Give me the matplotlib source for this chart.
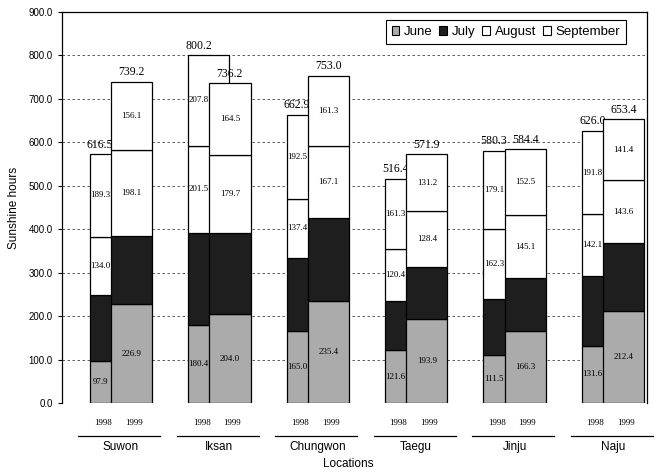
import numpy as np
import matplotlib.pyplot as plt

# data (sunshine hours per month)
locations = ['Suwon', 'Iksan', 'Chungwon', 'Taegu', 'Jinju', 'Naju']
months = ['June', 'July', 'August', 'September']

june_98 = [97.9, 180.4, 165.0, 121.6, 111.5, 131.6]
july_98 = [151.0, 210.5, 168.0, 113.1, 127.4, 160.5]
aug_98 = [134.0, 201.5, 137.4, 120.4, 162.3, 142.1]
sep_98 = [189.3, 207.8, 192.5, 161.3, 179.1, 191.8]
total_98 = [616.5, 800.2, 662.9, 516.4, 580.3, 626.0]

june_99 = [226.9, 204.0, 235.4, 193.9, 166.3, 212.4]
july_99 = [158.1, 188.0, 189.2, 118.4, 120.5, 156.0]
aug_99 = [198.1, 179.7, 167.1, 128.4, 145.1, 143.6]
sep_99 = [156.1, 164.5, 161.3, 131.2, 152.5, 141.4]
total_99 = [739.2, 736.2, 753.0, 571.9, 584.4, 653.4]

years = ['1998', '1999']

serif = 'Liberation Serif'
sans = 'Liberation Sans'
colors = ['#ababab', '#1e1e1e', 'white', 'white']

fig = plt.figure(figsize=(6.57, 4.72), dpi=100)
ax = fig.add_axes([0.094, 0.146, 0.891, 0.829])

x = np.arange(len(locations))
w = 0.42
off = 0.107

def draw_year(xpos, vals, totals, zo, lab_x):
    bottom = np.zeros(len(locations))
    for k, v in enumerate(vals):
        v = np.array(v)
        ax.bar(xpos, v, w, bottom=bottom, color=colors[k], edgecolor='black',
               linewidth=0.9, zorder=zo)
        if k != 1:
            for i in range(len(v)):
                ax.text(lab_x[i], bottom[i] + v[i] / 2, '%.1f' % v[i], ha='center', va='center',
                        fontsize=6.5, family=serif, zorder=zo + 1)
        bottom = bottom + v
    for i in range(len(totals)):
        ax.text(lab_x[i], bottom[i] + 8, '%.1f' % totals[i], ha='center', va='bottom',
                fontsize=8.5, family=serif, zorder=zo + 1)

# 1998 bar sits behind, 1999 bar overlaps it
draw_year(x - off, [june_98, july_98, aug_98, sep_98], total_98, 3, x - 0.21)
draw_year(x + off, [june_99, july_99, aug_99, sep_99], total_99, 5, x + off)

ax.set_xlim(-0.6, 5.345)
ax.set_ylim(0, 900)
ax.set_yticks(np.arange(0, 901, 100))
ax.set_yticklabels(['%.1f' % t for t in np.arange(0, 901, 100)], fontsize=7, family=sans)
ax.set_xticks([])
ax.yaxis.grid(True, linestyle=(0, (3, 3)), color='#444444', linewidth=0.6)
ax.set_axisbelow(True)
ax.spines['bottom'].set_visible(False)
for s in ['left', 'top', 'right']:
    ax.spines[s].set_linewidth(0.9)
ax.tick_params(axis='y', length=3, width=0.8)

# year labels, group lines, location names under the axis
tr = ax.get_xaxis_transform()
for i, loc in enumerate(locations):
    ax.text(x[i] - 0.18, -0.051, years[0], transform=tr, ha='center', va='center',
            fontsize=6.5, family=serif)
    ax.text(x[i] + 0.13, -0.051, years[1], transform=tr, ha='center', va='center',
            fontsize=6.5, family=serif)
    ax.plot([x[i] - 0.43, x[i] + 0.40], [-0.085, -0.085], transform=tr, color='black',
            linewidth=0.9, clip_on=False)
    ax.text(x[i], -0.112, loc, transform=tr, ha='center', va='center', fontsize=8.5, family=sans)

ax.text(0.49, -0.155, 'Locations', transform=ax.transAxes, ha='center', va='center',
        fontsize=8.5, family=sans)
ax.set_ylabel('Sunshine hours', fontsize=8.5, family=sans, labelpad=6)

handles = [plt.Rectangle((0, 0), 1, 1, facecolor=colors[k], edgecolor='black', linewidth=0.8)
           for k in range(4)]
leg = ax.legend(handles, months, loc='upper right', bbox_to_anchor=(0.968, 0.985), ncol=4,
                prop={'family': sans, 'size': 9.5}, handlelength=0.6, handleheight=0.6,
                handletextpad=0.35, columnspacing=0.5, borderpad=0.45, borderaxespad=0.2,
                fancybox=False, framealpha=1, edgecolor='black')
leg.get_frame().set_linewidth(0.8)
leg.set_zorder(10)

plt.savefig('out.png', dpi=100)
